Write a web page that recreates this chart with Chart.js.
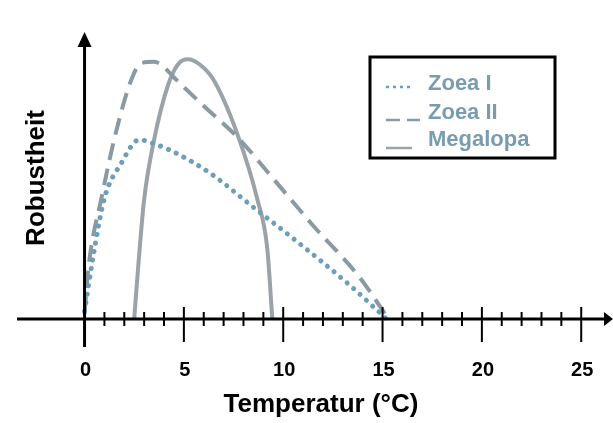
<!DOCTYPE html>
<html>
<head>
<meta charset="utf-8">
<script src="https://cdn.jsdelivr.net/npm/chart.js@4/dist/chart.umd.min.js"></script>
<style>
  html, body { margin: 0; padding: 0; background: #fff; }
  canvas { display: block; }
</style>
</head>
<body>
<canvas id="robustheit" width="613" height="423"></canvas>
<script>
// Werte (Temperatur in °C, Robustheit relativ)
const zoeaITemp = [0, 0.5, 1.0, 1.85, 2.75, 3.5, 4.7, 6.35, 8.5, 10.5, 13.35, 15.2];
const zoeaIValue = [0.03, 0.27, 0.465, 0.6, 0.69, 0.675, 0.635, 0.56, 0.43, 0.31, 0.13, 0.0];

const zoeaIITemp = [0, 0.2, 0.85, 1.6, 2.35, 2.85, 3.5, 3.85, 4.5, 6.0, 7.7, 9.5, 11.5, 13.85, 15.3];
const zoeaIIValue = [0.02, 0.2, 0.465, 0.725, 0.92, 0.985, 0.99, 0.98, 0.93, 0.82, 0.70, 0.54, 0.36, 0.16, 0.0];

const megalopaTemp = [2.5, 2.7, 3.0, 3.5, 4.2, 4.7, 5.2, 5.8, 6.5, 7.7, 8.7, 9.2, 9.45];
const megalopaValue = [0.0, 0.2, 0.46, 0.69, 0.9, 0.98, 1.0, 0.98, 0.92, 0.71, 0.46, 0.27, 0.0];

const xTickLabels = [0, 5, 10, 15, 20, 25];
const minorTicks = [1, 2, 3, 4, 6, 7, 8, 9, 11, 12, 13, 14, 16, 17, 18, 19, 21, 22, 23, 24];

const labels = ['Zoea I', 'Zoea II', 'Megalopa'];

function toPoints(xs, ys) {
  return xs.map((x, i) => ({ x: x, y: ys[i] }));
}

const font = '"Liberation Sans", Arial, sans-serif';

// Achsen mit Pfeilen, Ticks, Beschriftungen und Legende selbst zeichnen
const achsenPlugin = {
  id: 'achsen',
  afterDatasetsDraw(chart) {
    const ctx = chart.ctx;
    const xs = chart.scales.x;
    const ys = chart.scales.y;
    const x0 = xs.getPixelForValue(0);
    const y0 = ys.getPixelForValue(0);
    const area = chart.chartArea;

    ctx.save();
    ctx.strokeStyle = '#000';
    ctx.fillStyle = '#000';
    ctx.lineWidth = 3;

    // x-Achse
    ctx.beginPath();
    ctx.moveTo(area.left, y0);
    ctx.lineTo(area.right - 6, y0);
    ctx.stroke();
    ctx.beginPath();
    ctx.moveTo(area.right, y0);
    ctx.lineTo(area.right - 9, y0 - 7);
    ctx.lineTo(area.right - 9, y0 + 7);
    ctx.closePath();
    ctx.fill();

    // y-Achse
    ctx.beginPath();
    ctx.moveTo(x0, y0 + 28);
    ctx.lineTo(x0, area.top + 10);
    ctx.stroke();
    ctx.beginPath();
    ctx.moveTo(x0, area.top);
    ctx.lineTo(x0 - 7, area.top + 15);
    ctx.lineTo(x0 + 7, area.top + 15);
    ctx.closePath();
    ctx.fill();

    // Ticks
    ctx.lineWidth = 2;
    minorTicks.forEach(t => {
      const px = xs.getPixelForValue(t);
      ctx.beginPath();
      ctx.moveTo(px, y0 - 7);
      ctx.lineTo(px, y0 + 7);
      ctx.stroke();
    });
    xTickLabels.forEach(t => {
      if (t === 0) return;
      const px = xs.getPixelForValue(t);
      ctx.beginPath();
      ctx.moveTo(px, y0 - 12);
      ctx.lineTo(px, y0 + 23);
      ctx.stroke();
    });

    // Tick-Beschriftung
    ctx.font = 'bold 20px ' + font;
    ctx.textAlign = 'center';
    ctx.textBaseline = 'middle';
    xTickLabels.forEach(t => {
      ctx.fillText(String(t), xs.getPixelForValue(t) + 1, y0 + 51);
    });

    // Achsentitel
    ctx.font = 'bold 26px ' + font;
    ctx.fillText('Temperatur (°C)', 321, y0 + 86);
    ctx.save();
    ctx.translate(37, 178);
    ctx.rotate(-Math.PI / 2);
    ctx.fillText('Robustheit', 0, 0);
    ctx.restore();

    // Legende
    const bx = 370, by = 57, bw = 185, bh = 101;
    ctx.lineWidth = 3;
    ctx.strokeRect(bx, by, bw, bh);
    ctx.font = 'bold 22px ' + font;
    ctx.textAlign = 'left';
    ctx.textBaseline = 'alphabetic';
    const rows = [90, 119, 146];
    const marks = [87, 120, 148];
    chart.data.datasets.forEach((ds, i) => {
      ctx.fillStyle = '#7a9cb0';
      ctx.fillText(ds.label, 428, rows[i]);
      ctx.strokeStyle = ds.borderColor;
      ctx.lineWidth = 2.5;
      ctx.setLineDash(i === 0 ? [3, 4] : (i === 1 ? [14, 7] : []));
      ctx.beginPath();
      ctx.moveTo(386, marks[i]);
      ctx.lineTo(i === 1 ? 420 : 412, marks[i]);
      ctx.stroke();
      ctx.setLineDash([]);
    });
    ctx.restore();
  }
};

new Chart(document.getElementById('robustheit'), {
  type: 'line',
  data: {
    datasets: [
      {
        label: labels[0],
        data: toPoints(zoeaITemp, zoeaIValue),
        borderColor: '#6e9fb6',
        borderWidth: 5,
        borderDash: [0.1, 8.5],
        borderCapStyle: 'round',
        pointRadius: 0,
        cubicInterpolationMode: 'monotone',
        clip: false,
      },
      {
        label: labels[1],
        data: toPoints(zoeaIITemp, zoeaIIValue),
        borderColor: '#8a9aa3',
        borderWidth: 4,
        borderDash: [17, 9],
        pointRadius: 0,
        cubicInterpolationMode: 'monotone',
        clip: false,
      },
      {
        label: labels[2],
        data: toPoints(megalopaTemp, megalopaValue),
        borderColor: '#9aa3a8',
        borderWidth: 4,
        pointRadius: 0,
        cubicInterpolationMode: 'monotone',
        clip: false,
      },
    ],
  },
  options: {
    responsive: false,
    animation: false,
    devicePixelRatio: 1,
    layout: { padding: { left: 17, right: 0, top: 32, bottom: 104 } },
    plugins: {
      legend: { display: false },
      tooltip: { enabled: false },
    },
    scales: {
      x: { type: 'linear', min: -3.4, max: 26.6, display: false },
      y: { type: 'linear', min: 0, max: 1.105, display: false },
    },
  },
  plugins: [achsenPlugin],
});
</script>
</body>
</html>
